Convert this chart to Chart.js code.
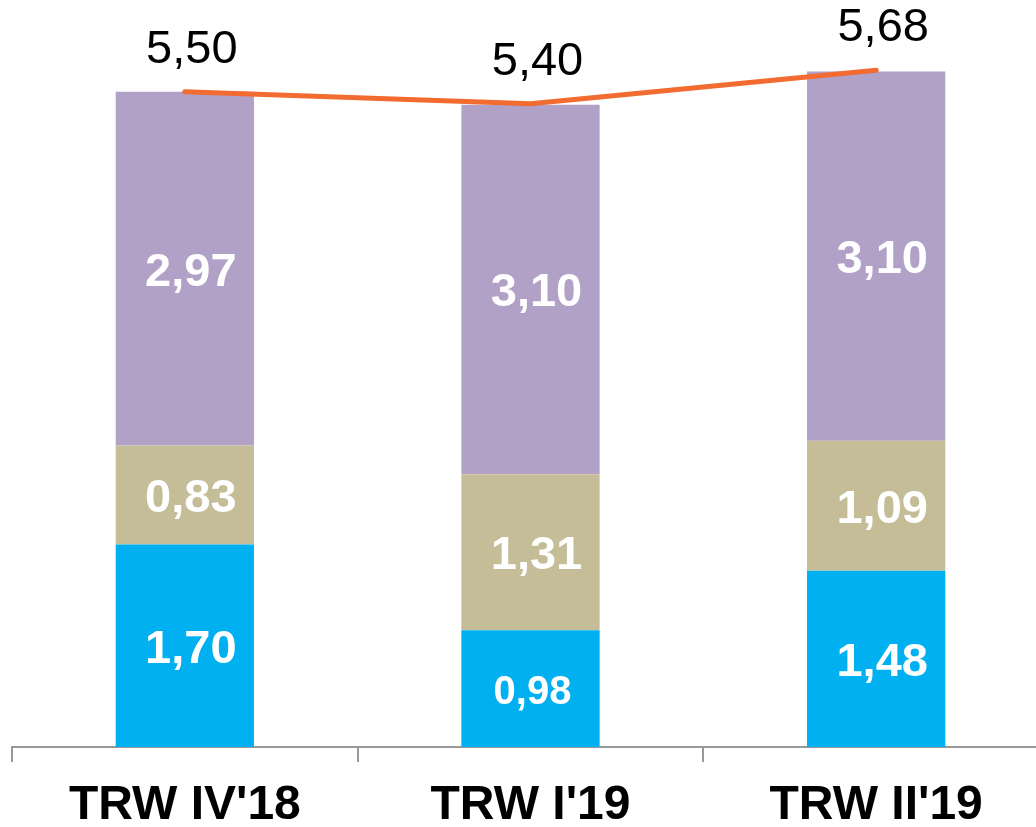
<!DOCTYPE html>
<html>
<head>
<meta charset="utf-8">
<script src="https://cdn.jsdelivr.net/npm/chart.js@4.4.0/dist/chart.umd.min.js"></script>
<style>
  body { margin: 0; overflow: hidden; background: #fff; }
  canvas { display: block; }
</style>
</head>
<body>
<canvas id="chart" width="1049" height="827"></canvas>
<script>
const categories = ["TRW IV'18", "TRW I'19", "TRW II'19"];
const blueValues = [1.70, 0.98, 1.48];
const beigeValues = [0.83, 1.31, 1.09];
const purpleValues = [2.97, 3.10, 3.10];
const totals = [5.50, 5.40, 5.68];

function fmt(v) {
  return v.toFixed(2).replace(".", ",");
}

// draws the numbers inside the bars and above the line
const labelPlugin = {
  id: "labels",
  afterDatasetsDraw(chart) {
    const ctx = chart.ctx;
    ctx.save();
    ctx.textAlign = "center";
    ctx.textBaseline = "middle";
    chart.data.datasets.forEach((ds, i) => {
      const meta = chart.getDatasetMeta(i);
      meta.data.forEach((el, j) => {
        const v = ds.data[j];
        if (ds.type === "line") {
          ctx.fillStyle = "#000";
          ctx.font = "47px 'Liberation Sans', Arial";
          ctx.fillText(fmt(v), el.x + 7, el.y - 42);
        } else {
          const size = v < 1 && v > 0.9 ? 40 : 47;
          ctx.fillStyle = "#fff";
          ctx.font = "bold " + size + "px 'Liberation Sans', Arial";
          ctx.fillText(fmt(v), el.x + (size < 46 ? 2 : 6), (el.y + el.base) / 2 + 4);
        }
      });
    });
    ctx.restore();
  }
};

const ctx = document.getElementById("chart").getContext("2d");
new Chart(ctx, {
  type: "bar",
  data: {
    labels: categories,
    datasets: [
      {
        type: "line",
        data: totals,
        borderColor: "#F26B30",
        borderWidth: 5,
        borderCapStyle: "round",
        pointRadius: 0,
        tension: 0,
        stack: "total",
        order: 0
      },
      { data: blueValues, backgroundColor: "#00B0F0", stack: "bars", order: 1 },
      { data: beigeValues, backgroundColor: "#C4BD97", stack: "bars", order: 1 },
      { data: purpleValues, backgroundColor: "#B2A1C7", stack: "bars", order: 1 }
    ]
  },
  options: {
    responsive: false,
    animation: false,
    layout: { padding: { left: 12, right: 0, top: 0, bottom: 0 } },
    datasets: { bar: { barPercentage: 1, categoryPercentage: 0.4 } },
    plugins: {
      legend: { display: false },
      tooltip: { enabled: false }
    },
    scales: {
      x: {
        stacked: true,
        offset: true,
        grid: {
          offset: true,
          drawOnChartArea: false,
          drawTicks: true,
          tickLength: 15,
          color: "#999999",
          lineWidth: 2
        },
        border: { display: true, color: "#999999", width: 2 },
        ticks: {
          color: "#000",
          padding: 15,
          font: { family: "'Liberation Sans', Arial", size: 48, weight: "bold" }
        },
        afterFit(scale) { scale.height = 80; }
      },
      y: {
        display: false,
        stacked: true,
        min: 0,
        max: 6.27
      }
    }
  },
  plugins: [labelPlugin]
});
</script>
</body>
</html>
